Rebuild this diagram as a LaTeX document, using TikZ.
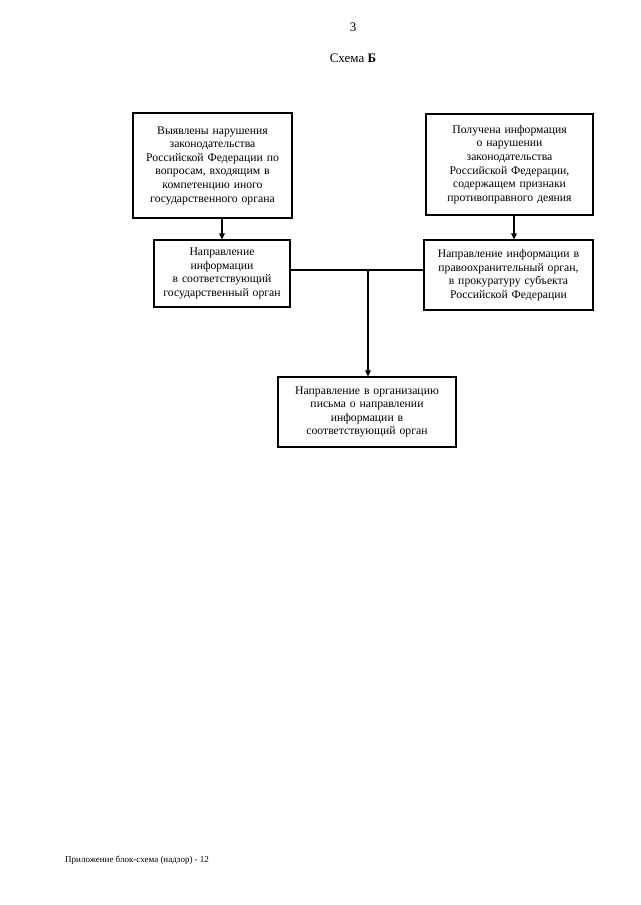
\documentclass[tikz,border=0pt]{standalone}
\usepackage{fontspec}
\setmainfont{Liberation Serif}
\usetikzlibrary{arrows.meta}
\begin{document}
\begin{tikzpicture}[x=1pt,y=-1pt,
  box/.style={draw,line width=1.2pt,inner sep=0pt,align=center,font=\fontsize{11.7}{13.6}\selectfont},
  arr/.style={line width=1.2pt,-{Triangle[length=6pt,width=5.5pt]}},
  conn/.style={line width=1.2pt}]
\useasboundingbox (0,0) rectangle (640,905);
\node (pg) at (353,27) {\fontsize{13}{15}\selectfont 3};
\node (title) at (353,58) {\fontsize{13}{15}\selectfont Схема \textbf{Б}};
\node[box,minimum width=159,minimum height=105,text width=155] (b1) at (212.5,165.5)
  {Выявлены нарушения\\законодательства\\Российской Федерации по\\вопросам, входящим в\\компетенцию иного\\государственного органа\\[6pt]};
\node[box,minimum width=136,minimum height=67,text width=132] (b2) at (222,273.5)
  {Направление\\информации\\в соответствующий\\государственный орган};
\node[box,minimum width=167,minimum height=101,text width=163] (b3) at (509.5,164.5)
  {Получена информация\\о нарушении\\законодательства\\Российской Федерации,\\содержащем признаки\\противоправного деяния\\[4pt]};
\node[box,minimum width=169,minimum height=70,text width=165] (b4) at (508.5,275)
  {Направление информации в\\правоохранительный орган,\\в прокуратуру субъекта\\Российской Федерации};
\node[box,minimum width=178,minimum height=70,text width=174] (b5) at (367,412)
  {Направление в организацию\\письма о направлении\\информации в\\соответствующий орган\\[3pt]};
\node[anchor=west,inner sep=0pt] (foot) at (65,860) {\fontsize{9}{11}\selectfont Приложение блок-схема (надзор) - 12};
\coordinate (a3) at (514,0);
\coordinate (j) at (368,270);
\draw[arr] (b1.south -| b2.north) -- (b2.north);
\draw[arr] (b3.south -| a3) -- (b4.north -| a3);
\draw[conn] (b2.east |- j) -- (b4.west |- j);
\draw[arr] (j) -- (b5.north -| j);
\end{tikzpicture}
\end{document}
